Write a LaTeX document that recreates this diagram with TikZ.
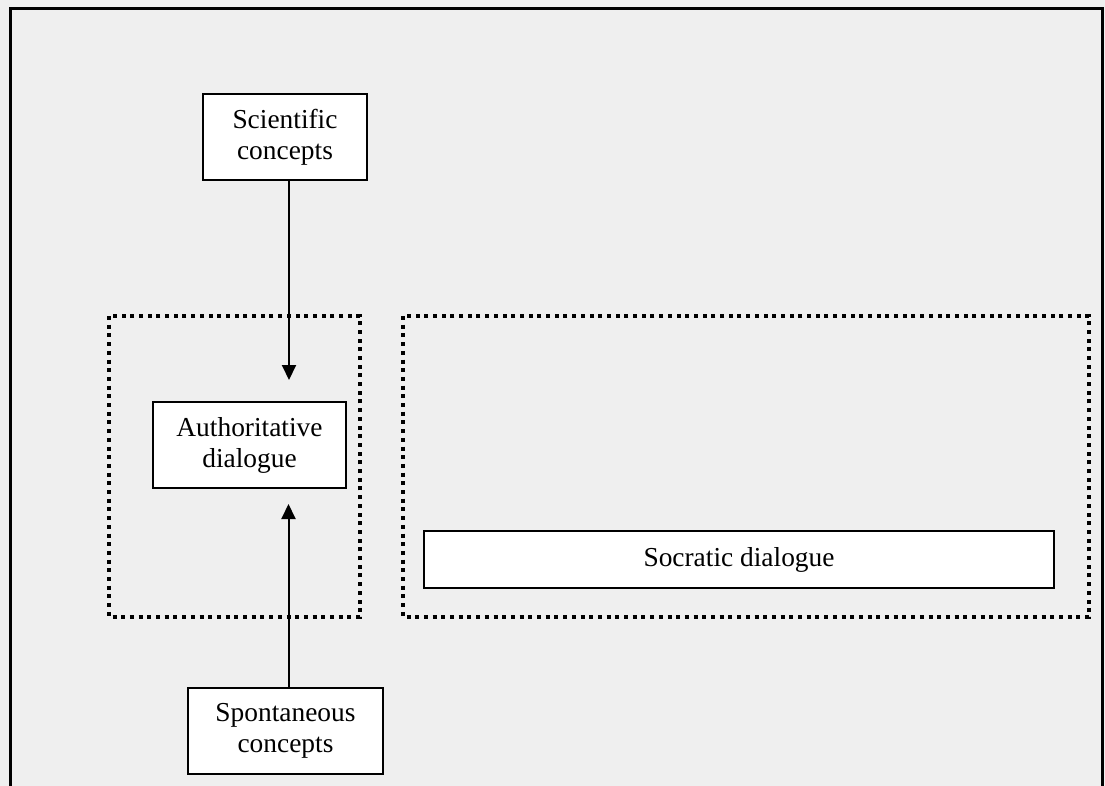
\documentclass[tikz,border=0pt]{standalone}
\usepackage{fontspec}
\setmainfont{Liberation Serif}
\usetikzlibrary{arrows.meta}
\definecolor{bggray}{HTML}{EFEFEF}
\tikzset{
  box/.style={draw=black, line width=2pt, fill=white, align=center,
    inner sep=0pt, font=\fontsize{27.4}{31}\selectfont},
  dotbox/.style={draw=black, line width=4pt, dash pattern=on 4pt off 4.7pt},
  arr/.style={draw=black, line width=2pt, -{Triangle[length=15pt,width=14pt]}},
  frame/.style={draw=black, line width=3pt}
}
\begin{document}
\begin{tikzpicture}[x=1pt,y=-1pt]
  % page and background
  \fill[bggray] (0,0) rectangle (1105,786);
  \useasboundingbox (0,0) rectangle (1105,786);
  % outer frame, running off the bottom edge
  \draw[frame] (10,786) -- (10,9) -- (1102,9) -- (1102,786);
  % dotted groupings
  \draw[dotbox] (109,316) rectangle (360,617);
  \draw[dotbox] (403,316) rectangle (1089,617);
  % concept and dialogue boxes
  \node[box, minimum width=164pt, minimum height=86pt] (sci) at (285,137) {Scientific\\concepts};
  \node[box, minimum width=193pt, minimum height=86pt] (auth) at (249.5,445) {Authoritative\\dialogue};
  \node[box, minimum width=195pt, minimum height=86pt] (spon) at (285.5,731) {Spontaneous\\concepts};
  \node[box, minimum width=630pt, minimum height=57pt] (soc) at (739,559.5) {Socratic dialogue};
  % arrows towards the authoritative dialogue
  \coordinate (tipA) at (289,380);
  \coordinate (tipB) at (288.5,504);
  \draw[arr] (sci.south -| tipA) -- (tipA);
  \draw[arr] (spon.north -| tipB) -- (tipB);
\end{tikzpicture}
\end{document}
